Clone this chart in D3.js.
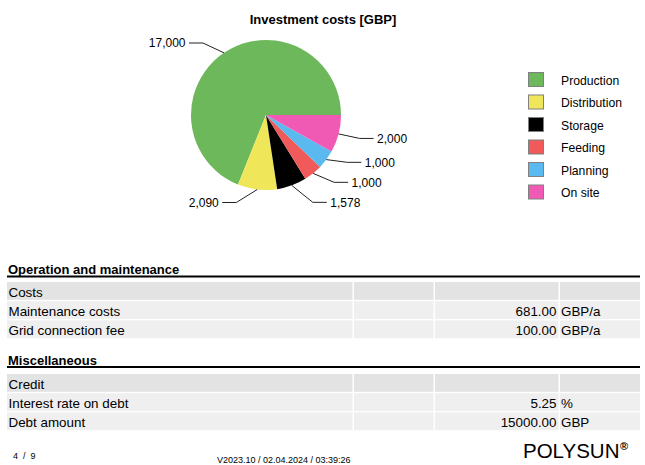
<!DOCTYPE html>
<html>
<head>
<meta charset="utf-8">
<script src="https://cdn.jsdelivr.net/npm/d3@7"></script>
<style>
  html, body { margin: 0; padding: 0; background: #fff; }
  svg { display: block; font-family: "Liberation Sans", Arial, sans-serif; }
</style>
</head>
<body>
<div id="chart"></div>
<script>
// ---------- Data ----------
const categories = ["Production", "Distribution", "Storage", "Feeding", "Planning", "On site"];
const costs = [17000, 2090, 1578, 1000, 1000, 2000];
const palette = ["#6cb85a", "#f0e65a", "#000000", "#f05a5a", "#5abaf0", "#f05ab4"];

const omTitle = "Operation and maintenance";
const omLabels = ["Costs", "Maintenance costs", "Grid connection fee"];
const omValues = ["", "681.00", "100.00"];
const omUnits = ["", "GBP/a", "GBP/a"];

const miscTitle = "Miscellaneous";
const miscLabels = ["Credit", "Interest rate on debt", "Debt amount"];
const miscValues = ["", "5.25", "15000.00"];
const miscUnits = ["", "%", "GBP"];

const pageNo = "4  /  9";
const version = "V2023.10 / 02.04.2024 / 03:39:26";

// ---------- Setup ----------
const width = 645, height = 465;
const svg = d3.select("#chart").append("svg")
  .attr("width", width).attr("height", height)
  .attr("viewBox", `0 0 ${width} ${height}`);

const color = d3.scaleOrdinal(categories, palette);
const fmt = d3.format(",");

// ---------- Pie ----------
const cx = 266, cy = 115, r = 75;

svg.append("text")
  .attr("x", 323).attr("y", 24)
  .attr("text-anchor", "middle")
  .attr("font-size", 13).attr("font-weight", "bold")
  .text("Investment costs [GBP]");

const pie = d3.pie().sort(null).value(d => d.value)
  .startAngle(Math.PI / 2).endAngle(Math.PI / 2 - 2 * Math.PI);
const arc = d3.arc().innerRadius(0).outerRadius(r);

const slices = pie(categories.map((c, i) => ({ name: c, value: costs[i] })));

const g = svg.append("g").attr("transform", `translate(${cx},${cy})`);
g.selectAll("path")
  .data(slices)
  .join("path")
  .attr("d", arc)
  .attr("fill", d => color(d.data.name));

// label layout: natural position on a ring, then push apart per side
const ringR = 93, gap = 20, minY = 43, maxY = 202.5;
const labels = slices.map(s => {
  const a = (s.startAngle + s.endAngle) / 2;
  return {
    s,
    side: Math.sin(a) >= 0 ? 1 : -1,
    ax: cx + r * Math.sin(a),
    ay: cy - r * Math.cos(a),
    y: cy - ringR * Math.cos(a)
  };
});

[1, -1].forEach(side => {
  const grp = labels.filter(l => l.side === side).sort((a, b) => b.y - a.y);
  let prev = Infinity;
  grp.forEach(l => {
    l.y = Math.max(minY, Math.min(l.y, prev - gap, maxY));
    prev = l.y;
  });
});

const lab = svg.append("g");
labels.forEach(l => {
  const ex = l.ax + l.side * 21;
  const lx = ex + l.side * 14;
  lab.append("polyline")
    .attr("points", `${l.ax},${l.ay} ${ex},${l.y} ${lx},${l.y}`)
    .attr("fill", "none")
    .attr("stroke", "#222")
    .attr("stroke-width", 1);
  lab.append("text")
    .attr("x", lx + l.side * 3.5)
    .attr("y", l.y + 4.3)
    .attr("text-anchor", l.side > 0 ? "start" : "end")
    .attr("font-size", 12)
    .text(fmt(l.s.data.value));
});

// ---------- Legend ----------
const legend = svg.append("g");
categories.forEach((c, i) => {
  const y = 72 + i * 22.5;
  legend.append("rect")
    .attr("x", 528.5).attr("y", y + 0.5)
    .attr("width", 15).attr("height", 14)
    .attr("fill", color(c))
    .attr("stroke", "#808080");
  legend.append("text")
    .attr("x", 561).attr("y", y + 12.5)
    .attr("font-size", 12.2)
    .text(c);
});

// ---------- Tables ----------
const cols = [[7, 352.5], [354, 433.5], [435, 558.5], [560, 640]];

function drawSection(baseY, rowTop, title, rowLabels, values, units) {
  const s = svg.append("g");
  s.append("text")
    .attr("x", 8).attr("y", baseY)
    .attr("font-size", 13).attr("font-weight", "bold")
    .text(title);
  s.append("line")
    .attr("x1", 7).attr("x2", 640)
    .attr("y1", baseY + 2.5).attr("y2", baseY + 2.5)
    .attr("stroke", "#000").attr("stroke-width", 1.8);

  rowLabels.forEach((lbl, i) => {
    const top = rowTop + i * 19.2;
    cols.forEach(([x0, x1]) => {
      s.append("rect")
        .attr("x", x0).attr("y", top)
        .attr("width", x1 - x0).attr("height", 17.8)
        .attr("fill", i === 0 ? "#e3e3e3" : "#efefef");
    });
    s.append("text")
      .attr("x", 8.5).attr("y", top + 14.6)
      .attr("font-size", 13.4)
      .text(lbl);
    s.append("text")
      .attr("x", 556.5).attr("y", top + 14.6)
      .attr("text-anchor", "end")
      .attr("font-size", 13.4)
      .text(values[i]);
    s.append("text")
      .attr("x", 561).attr("y", top + 14.6)
      .attr("font-size", 13.4)
      .text(units[i]);
  });
}

drawSection(274, 282, omTitle, omLabels, omValues, omUnits);
drawSection(364.5, 374, miscTitle, miscLabels, miscValues, miscUnits);

// ---------- Footer ----------
svg.append("text")
  .attr("x", 13).attr("y", 458.5)
  .attr("font-size", 9)
  .style("white-space", "pre")
  .text(pageNo);

svg.append("text")
  .attr("x", 217).attr("y", 463)
  .attr("font-size", 9)
  .text(version);

const logo = svg.append("text")
  .attr("x", 523).attr("y", 457.5)
  .attr("font-size", 20.5)
  .text("POLYSUN");
logo.append("tspan")
  .attr("font-size", 11)
  .attr("font-weight", "bold")
  .attr("dx", 0.5)
  .attr("dy", -7.5)
  .text("®");
</script>
</body>
</html>
